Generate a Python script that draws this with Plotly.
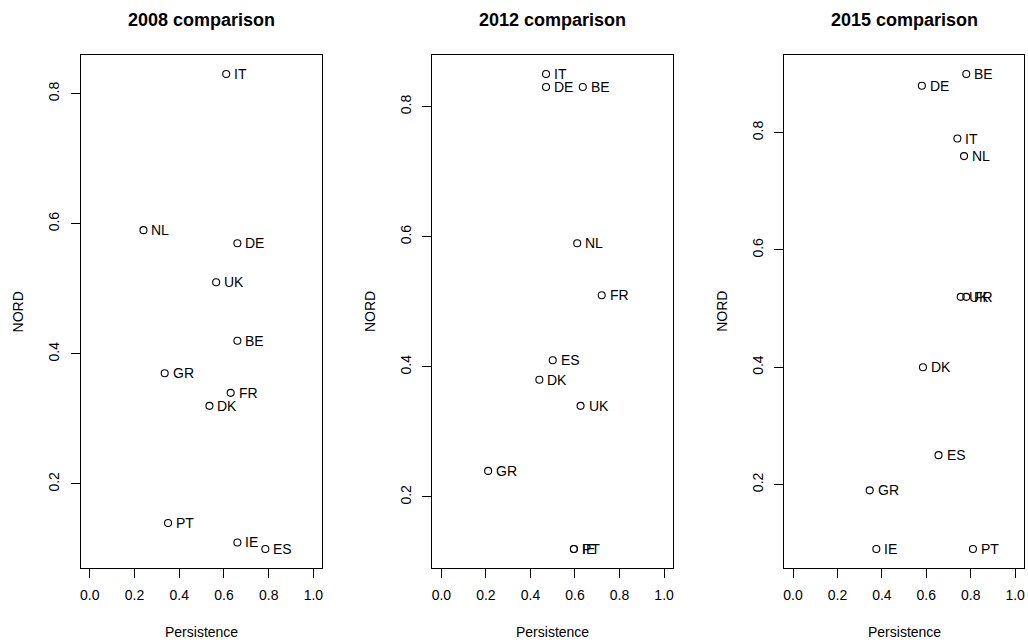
import plotly.graph_objects as go

# ---- data ----
titles = ["2008 comparison", "2012 comparison", "2015 comparison"]

countries_2008 = ["IT", "NL", "DE", "UK", "BE", "GR", "FR", "DK", "PT", "IE", "ES"]
persistence_2008 = [0.61, 0.24, 0.66, 0.565, 0.66, 0.335, 0.63, 0.535, 0.35, 0.66, 0.785]
nord_2008 = [0.83, 0.59, 0.57, 0.51, 0.42, 0.37, 0.34, 0.32, 0.14, 0.11, 0.10]

countries_2012 = ["IT", "DE", "BE", "NL", "FR", "ES", "DK", "UK", "GR", "IE", "PT"]
persistence_2012 = [0.47, 0.47, 0.635, 0.61, 0.72, 0.50, 0.44, 0.625, 0.21, 0.595, 0.595]
nord_2012 = [0.85, 0.83, 0.83, 0.59, 0.51, 0.41, 0.38, 0.34, 0.24, 0.12, 0.12]

countries_2015 = ["BE", "DE", "IT", "NL", "UK", "FR", "DK", "ES", "GR", "IE", "PT"]
persistence_2015 = [0.78, 0.58, 0.74, 0.77, 0.755, 0.78, 0.585, 0.655, 0.345, 0.375, 0.81]
nord_2015 = [0.90, 0.88, 0.79, 0.76, 0.52, 0.52, 0.40, 0.25, 0.19, 0.09, 0.09]

x_ticks = [0.0, 0.2, 0.4, 0.6, 0.8, 1.0]
y_ticks = [0.2, 0.4, 0.6, 0.8]

panels = [
    (countries_2008, persistence_2008, nord_2008),
    (countries_2012, persistence_2012, nord_2012),
    (countries_2015, persistence_2015, nord_2015),
]

W, H = 1028, 644
boxes_px = [(80, 322), (432.3, 673.3), (784.7, 1025)]
top_px, bottom_px = 55, 568
FONT = "Liberation Sans, Arial, Helvetica, sans-serif"

fig = go.Figure()
annotations = []

def pad(lo, hi):
    d = (hi - lo) * 0.04
    return [lo - d, hi + d]

for i, (names, xs, ys) in enumerate(panels):
    n = "" if i == 0 else str(i + 1)
    xa = "x" + n
    ya = "y" + n
    fig.add_trace(go.Scatter(
        x=xs, y=ys, mode="markers", xaxis=xa, yaxis=ya,
        marker=dict(symbol="circle-open", size=7, color="black",
                    line=dict(width=1.1, color="black")),
        showlegend=False, hoverinfo="skip"))
    for name, xv, yv in zip(names, xs, ys):
        annotations.append(dict(
            x=xv, y=yv, xref=xa, yref=ya, text=name, showarrow=False,
            xanchor="left", yanchor="middle", xshift=6,
            font=dict(family=FONT, size=14, color="black")))
    l, r = boxes_px[i]
    common = dict(showline=True, mirror=True, linecolor="black", linewidth=1,
                  ticks="outside", ticklen=9, tickwidth=1, tickcolor="black",
                  showgrid=False, zeroline=False,
                  tickfont=dict(family=FONT, size=14, color="black"))
    fig.update_layout(**{
        ("xaxis" + n): dict(domain=[l / W, r / W], anchor=ya,
                            range=pad(0.0, 1.0), tickvals=x_ticks,
                            tickformat=".1f", ticklabelstandoff=5, **common),
        ("yaxis" + n): dict(domain=[1 - bottom_px / H, 1 - top_px / H], anchor=xa,
                            range=pad(min(ys), max(ys)), tickvals=y_ticks,
                            tickformat=".1f", tickangle=-90, ticklabelstandoff=6,
                            **common),
    })
    cx = (l + r) / 2 / W
    annotations.append(dict(x=cx, y=1 - 20 / H, xref="paper", yref="paper",
                            text="<b>" + titles[i] + "</b>", showarrow=False,
                            xanchor="center", yanchor="middle",
                            font=dict(family=FONT, size=18, color="black")))
    annotations.append(dict(x=cx, y=1 - 632 / H, xref="paper", yref="paper",
                            text="Persistence", showarrow=False,
                            xanchor="center", yanchor="middle",
                            font=dict(family=FONT, size=14, color="black")))
    annotations.append(dict(x=(l - 63) / W, y=1 - (top_px + bottom_px) / 2 / H,
                            xref="paper", yref="paper", text="NORD", textangle=-90,
                            showarrow=False, xanchor="center", yanchor="middle",
                            font=dict(family=FONT, size=14, color="black")))

fig.update_layout(width=W, height=H, margin=dict(l=0, r=0, t=0, b=0),
                  paper_bgcolor="white", plot_bgcolor="white",
                  annotations=annotations)

fig.write_html("out.html", config={"displayModeBar": False},
               post_script="document.body.style.margin='0';")
